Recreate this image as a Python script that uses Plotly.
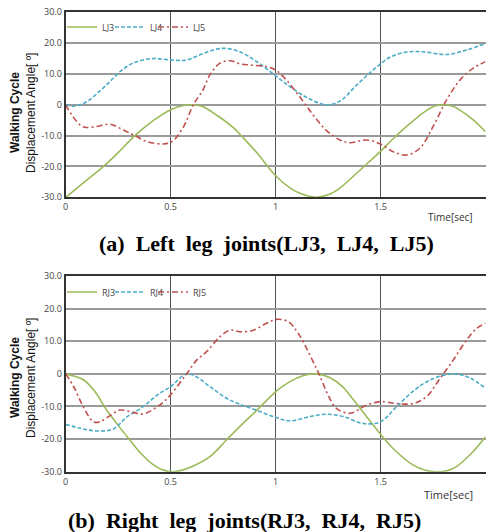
import plotly.graph_objects as go

# ---------------- data ----------------
t_lj3 = [0, 0.09, 0.18, 0.25, 0.33, 0.42, 0.5, 0.55, 0.6, 0.65, 0.72, 0.8, 0.84, 0.91, 0.96, 1.0, 1.07, 1.12, 1.187, 1.25, 1.306, 1.386, 1.44, 1.5, 1.56, 1.624, 1.68, 1.72, 1.76, 1.8, 1.84, 1.88, 1.94, 2.0]
v_lj3 = [-30, -25, -20, -15.5, -10, -5, -1.6, -0.4, 0, -0.5, -3.4, -7.5, -10.3, -15.5, -19.8, -23, -27, -28.8, -30, -29.2, -27, -22.2, -18.8, -15.1, -11, -7, -3.8, -1.8, -0.4, 0, -0.4, -1.8, -4.8, -8.7]

t_lj4 = [0, 0.044, 0.1, 0.163, 0.21, 0.26, 0.32, 0.386, 0.433, 0.5, 0.576, 0.64, 0.703, 0.759, 0.83, 0.91, 1.0, 1.068, 1.148, 1.24, 1.306, 1.386, 1.465, 1.544, 1.624, 1.703, 1.814, 1.91, 2.0]
v_lj4 = [0, -0.4, 1.0, 4.5, 7.5, 10.8, 13.5, 14.8, 15.0, 14.5, 14.5, 16.2, 17.8, 18.3, 17.2, 14.0, 9.4, 5.9, 2.4, 0.0, 1.2, 6.4, 11.3, 15.4, 17.1, 17.2, 16.3, 17.8, 19.9]

t_lj5 = [0, 0.029, 0.068, 0.092, 0.15, 0.211, 0.275, 0.33, 0.386, 0.465, 0.505, 0.56, 0.608, 0.654, 0.687, 0.735, 0.783, 0.83, 0.878, 0.957, 1.0, 1.052, 1.115, 1.179, 1.24, 1.306, 1.354, 1.433, 1.5, 1.56, 1.624, 1.687, 1.75, 1.814, 1.878, 1.94, 2.0]
v_lj5 = [0, -3.3, -6.5, -7.3, -7.0, -6.3, -8.2, -10.0, -11.9, -12.7, -12.0, -7.3, 0.0, 4.8, 9.7, 13.5, 14.3, 13.3, 12.9, 12.4, 11.3, 8.0, 2.6, -3.3, -8.2, -11.4, -12.3, -11.4, -12.7, -15.2, -16.3, -14.1, -7.1, 1.5, 8.0, 11.8, 14.0]

t_rj3 = [0, 0.084, 0.14, 0.195, 0.25, 0.306, 0.36, 0.42, 0.46, 0.504, 0.55, 0.6, 0.687, 0.767, 0.84, 0.91, 1.0, 1.068, 1.13, 1.195, 1.26, 1.32, 1.37, 1.465, 1.56, 1.656, 1.71, 1.767, 1.82, 1.86, 1.94, 2.0]
v_rj3 = [0, -1.8, -5.5, -11.1, -15.8, -20.3, -24.5, -28, -29.4, -30, -29.6, -28.5, -25.4, -20.2, -15.5, -11.2, -5.5, -2.4, -0.6, 0, -1.2, -4, -7.9, -15.7, -22.9, -28, -29.5, -30, -29.6, -28.5, -23.9, -19.3]

t_rj4 = [0, 0.07, 0.147, 0.227, 0.29, 0.37, 0.44, 0.5, 0.576, 0.62, 0.687, 0.767, 0.83, 0.91, 1.0, 1.068, 1.163, 1.243, 1.322, 1.417, 1.5, 1.576, 1.671, 1.75, 1.846, 1.925, 2.0]
v_rj4 = [-15.5, -16.7, -17.5, -16.9, -13.3, -10.0, -6.3, -3.9, 0.0, -0.8, -3.9, -7.5, -9.3, -11.2, -13.3, -14.4, -13.1, -12.4, -13.1, -15.2, -14.7, -10.1, -4.5, -1.5, 0.0, -1.2, -4.5]

t_rj5 = [0, 0.037, 0.084, 0.132, 0.163, 0.211, 0.259, 0.322, 0.37, 0.449, 0.5, 0.576, 0.624, 0.671, 0.735, 0.783, 0.83, 0.894, 0.957, 1.005, 1.06, 1.108, 1.163, 1.211, 1.25, 1.29, 1.354, 1.433, 1.5, 1.576, 1.656, 1.719, 1.78, 1.846, 1.91, 1.957, 2.0]
v_rj5 = [0, -3.8, -10.1, -14.7, -14.7, -12.8, -11.1, -11.8, -12.3, -9.5, -6.4, 0.0, 4.2, 6.8, 11.4, 13.4, 12.9, 13.4, 15.5, 16.7, 16.0, 12.4, 5.8, -0.7, -6.5, -10.6, -12.1, -9.6, -8.5, -9.1, -9.1, -7.0, -1.7, 4.2, 10.4, 13.9, 15.5]

y_ticks = [30, 20, 10, 0, -10, -20, -30]
y_tick_text = ["30.0", "20.0", "10.0", "0", "-10.0", "-20.0", "-30.0"]
x_ticks = [0, 0.5, 1, 1.5, 2]
x_tick_text = ["0", "0.5", "1", "1.5", "2"]

GREEN = "#9bbb59"
BLUE = "#4bacc6"
RED = "#c0504d"

W, H = 486, 532


def px(x):
    return x / W


def py(y):
    return 1 - y / H


fig = go.Figure()

# (name, t, v, colour, dash, xaxis, yaxis, legend id, legend x px, legend y px)
series = [
    ("LJ3", t_lj3, v_lj3, GREEN, "solid", "x", "y", "legend", 62, 27),
    ("LJ4", t_lj4, v_lj4, BLUE, "4px,2px", "x", "y", "legend2", 110, 27),
    ("LJ5", t_lj5, v_lj5, RED, "6px,3px,2px,3px", "x", "y", "legend3", 153, 27),
    ("RJ3", t_rj3, v_rj3, GREEN, "solid", "x2", "y2", "legend4", 62, 292),
    ("RJ4", t_rj4, v_rj4, BLUE, "4px,2px", "x2", "y2", "legend5", 110, 292),
    ("RJ5", t_rj5, v_rj5, RED, "6px,3px,2px,3px", "x2", "y2", "legend6", 153, 292),
]
legend_layout = {}
for name, tx, vy, col, dash, xa, ya, lg, lx, ly in series:
    fig.add_trace(go.Scatter(
        x=tx, y=vy, name=name, mode="lines",
        line=dict(color=col, width=1.6, dash=dash, shape="spline", smoothing=1.0),
        xaxis=xa, yaxis=ya, legend=lg,
    ))
    legend_layout[lg] = dict(orientation="h", xanchor="left", yanchor="middle", x=px(lx), y=py(ly),
                             font=dict(family="Open Sans, Arial, sans-serif", size=9, color="#444"),
                             bgcolor="rgba(0,0,0,0)", borderwidth=0, itemwidth=30)

tick_font = dict(family="Open Sans, Arial, sans-serif", size=9, color="#444")
xdom = [px(65.7), px(485.5)]

common_x = dict(range=[0, 2], tickvals=x_ticks, ticktext=x_tick_text, showgrid=True,
                gridcolor="#555", gridwidth=1, zeroline=False, showline=True, linecolor="#333",
                linewidth=2, mirror=True, ticks="", tickfont=tick_font, domain=xdom, automargin=False)
common_y = dict(range=[-30, 30], tickvals=y_ticks, ticktext=y_tick_text, showgrid=True,
                gridcolor="#9a9a9a", gridwidth=1.5, zeroline=False, showline=True, linecolor="#333",
                linewidth=2, mirror=True, ticks="", tickfont=tick_font, automargin=False)

fig.update_layout(
    width=W, height=H, margin=dict(l=0, r=0, t=0, b=0, autoexpand=False),
    paper_bgcolor="white", plot_bgcolor="white",
    xaxis=dict(common_x, anchor="y"),
    yaxis=dict(common_y, anchor="x", domain=[py(197.3), py(12.3)]),
    xaxis2=dict(common_x, anchor="y2"),
    yaxis2=dict(common_y, anchor="x2", domain=[py(471.7), py(276)]),
    showlegend=True,
    **legend_layout,
)

annotations = []
for yc in (113, 378):
    annotations.append(dict(text="<b>Walking Cycle</b>", x=px(15), y=py(yc), xref="paper", yref="paper",
                            textangle=-90, showarrow=False, xanchor="center", yanchor="middle",
                            font=dict(family="Liberation Sans Narrow, Liberation Sans, Arial", size=12, color="#111")))
    annotations.append(dict(text="Displacement Angle[ º]", x=px(31), y=py(yc), xref="paper", yref="paper",
                            textangle=-90, showarrow=False, xanchor="center", yanchor="middle",
                            font=dict(family="Liberation Sans Narrow, Liberation Sans, Arial", size=12, color="#111")))
annotations.append(dict(text="Time[sec]", x=px(475), y=py(217), xref="paper", yref="paper", showarrow=False,
                        xanchor="right", yanchor="middle",
                        font=dict(family="Open Sans, Arial, sans-serif", size=10, color="#333")))
annotations.append(dict(text="Time[sec]", x=px(475), y=py(494), xref="paper", yref="paper", showarrow=False,
                        xanchor="right", yanchor="middle",
                        font=dict(family="Open Sans, Arial, sans-serif", size=11, color="#333")))
annotations.append(dict(text="<b>(a)&nbsp; Left&nbsp; leg&nbsp; joints(LJ3,&nbsp; LJ4,&nbsp; LJ5)</b>",
                        x=px(266), y=py(243), xref="paper", yref="paper", showarrow=False,
                        xanchor="center", yanchor="middle",
                        font=dict(family="Liberation Serif, Times New Roman, serif", size=22, color="#000")))
annotations.append(dict(text="<b>(b)&nbsp; Right&nbsp; leg&nbsp; joints(RJ3,&nbsp; RJ4,&nbsp; RJ5)</b>",
                        x=px(244), y=py(520), xref="paper", yref="paper", showarrow=False,
                        xanchor="center", yanchor="middle",
                        font=dict(family="Liberation Serif, Times New Roman, serif", size=22, color="#000")))
fig.update_layout(annotations=annotations)

fig.write_html("out.html", config={"displayModeBar": False},
               post_script="document.body.style.margin='0px';document.body.style.overflow='hidden';")
